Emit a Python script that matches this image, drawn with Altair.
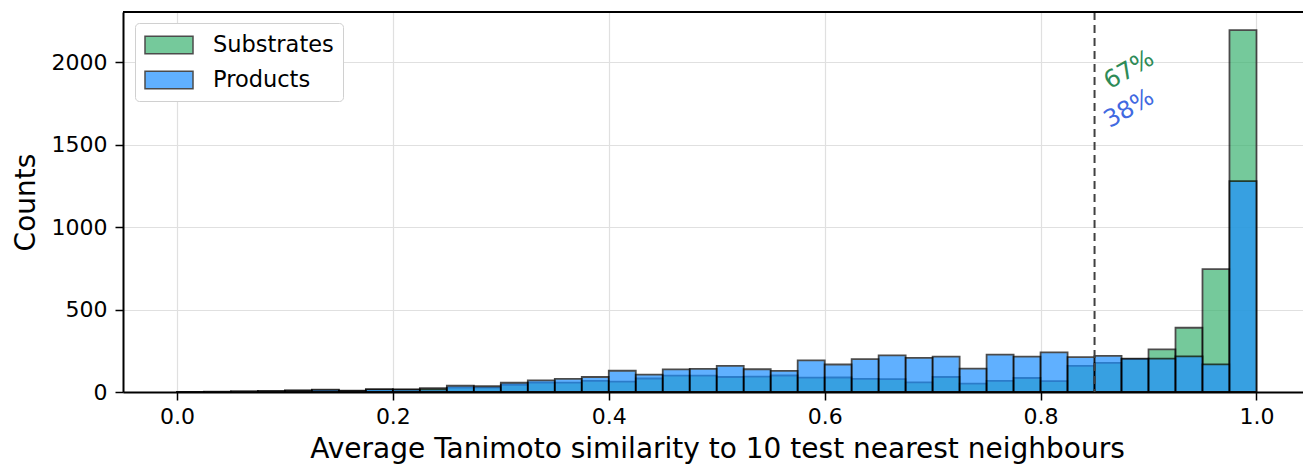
import altair as alt
import numpy as np
import pandas as pd

# Histogram of average Tanimoto similarity, 40 bins of width 0.025 on [0, 1]
BIN_WIDTH = 0.025
bin_starts = np.round(np.arange(40) * BIN_WIDTH, 3).tolist()

substrates = [1, 2, 3, 5, 8, 10, 7, 14, 14, 24,
              26, 26, 44, 57, 57, 68, 63, 82, 99, 99,
              91, 93, 100, 87, 88, 80, 78, 58, 91, 51,
              68, 85, 66, 158, 177, 200, 259, 390, 745, 2196]

products = [1, 1, 4, 6, 10, 14, 8, 18, 16, 16,
            38, 35, 56, 70, 80, 91, 129, 106, 137, 140,
            158, 138, 128, 192, 167, 200, 222, 207, 215, 142,
            227, 215, 240, 212, 219, 202, 202, 216, 168, 1279]

series_names = ["Substrates", "Products"]
series_fill = ["mediumseagreen", "dodgerblue"]
label_colors = ["seagreen", "royalblue"]

THRESHOLD = 0.85

rows = []
for name, counts in zip(series_names, [substrates, products]):
    for start, c in zip(bin_starts, counts):
        rows.append({"series": name, "start": start,
                     "end": round(start + BIN_WIDTH, 3), "count": c})
hist = pd.DataFrame(rows)

# share of each set lying above the similarity threshold
shares = []
for counts in [substrates, products]:
    above = sum(c for s, c in zip(bin_starts, counts) if s >= THRESHOLD - 1e-9)
    shares.append(int(100 * above / sum(counts)))
labels = pd.DataFrame({
    "series": series_names,
    "text": [f"{p}%" for p in shares],
    "x": [THRESHOLD + 0.014, THRESHOLD + 0.014],
    "y": [1835, 1600],
})

PLOT_W, PLOT_H = 1180, 380
PX_PER_UNIT = 1079.5
x_domain = [-0.05, -0.05 + PLOT_W / PX_PER_UNIT]
y_max = 1.05 * max(max(substrates), max(products))

FONT = "DejaVu Sans"

x_enc = alt.X(
    "start:Q",
    scale=alt.Scale(domain=x_domain, nice=False, zero=False),
    axis=alt.Axis(
        values=[0.0, 0.2, 0.4, 0.6, 0.8, 1.0], format=".1f",
        title="Average Tanimoto similarity to 10 test nearest neighbours",
        titleX=594, titleY=65, titleBaseline="alphabetic", titleAlign="center",
    ),
)
y_enc = alt.Y(
    "count:Q", stack=None,
    scale=alt.Scale(domain=[0, y_max], nice=False),
    axis=alt.Axis(
        values=[0, 500, 1000, 1500, 2000], format="d", title="Counts",
        titleX=-89, titleY=PLOT_H / 2, titleAngle=270,
        titleBaseline="alphabetic", titleAlign="center",
    ),
)

bars = alt.Chart(hist).mark_bar(
    opacity=0.7, stroke="black", strokeWidth=1.8
).encode(
    x=x_enc,
    x2="end:Q",
    y=y_enc,
    y2=alt.datum(0),
    color=alt.Color(
        "series:N",
        scale=alt.Scale(domain=series_names, range=series_fill),
        legend=alt.Legend(
            title=None, orient="none", legendX=12, legendY=11,
            symbolType="M-1,-0.72H3V0.72H-1Z", symbolSize=576,
            symbolStrokeColor="black", symbolStrokeWidth=1.5,
            symbolOpacity=0.7,
            labelFontSize=22.5, labelFont=FONT, labelColor="black",
            labelOffset=43, padding=9, rowPadding=10,
            fillColor="white", strokeColor="#d0d0d0", cornerRadius=4,
        ),
    ),
)

threshold_rule = alt.Chart(pd.DataFrame({"x": [THRESHOLD]})).mark_rule(
    color="#404040", strokeWidth=2, strokeDash=[8, 5]
).encode(x="x:Q")

share_text = alt.Chart(labels).mark_text(
    angle=330, align="left", baseline="alphabetic", fontSize=24, font=FONT
).encode(
    x="x:Q",
    y="y:Q",
    text="text:N",
    color=alt.Color("series:N",
                    scale=alt.Scale(domain=series_names, range=label_colors),
                    legend=None),
)

top_spine = alt.Chart(pd.DataFrame({"k": [0]})).mark_rule(
    color="black", strokeWidth=2
).encode(x=alt.value(0), x2=alt.value(PLOT_W), y=alt.value(0))

chart = alt.layer(bars, threshold_rule, share_text, top_spine).resolve_scale(
    color="independent"
).properties(
    width=PLOT_W, height=PLOT_H,
    autosize=alt.AutoSizeParams(type="none"),
    padding={"left": 123, "top": 12, "right": 0, "bottom": 74},
).configure_view(
    stroke=None
).configure_axis(
    labelFont=FONT, titleFont=FONT, labelFontSize=22, titleFontSize=28,
    titleFontWeight="normal", labelColor="black", titleColor="black",
    tickColor="black", tickSize=8, tickWidth=1.5,
    domainColor="black", domainWidth=2,
    gridColor="#e0e0e0", gridWidth=1.2,
).configure_axisX(
    labelPadding=6
).configure_axisY(
    labelPadding=8
)

chart.save("out.html", embed_options={"renderer": "svg", "actions": False})
